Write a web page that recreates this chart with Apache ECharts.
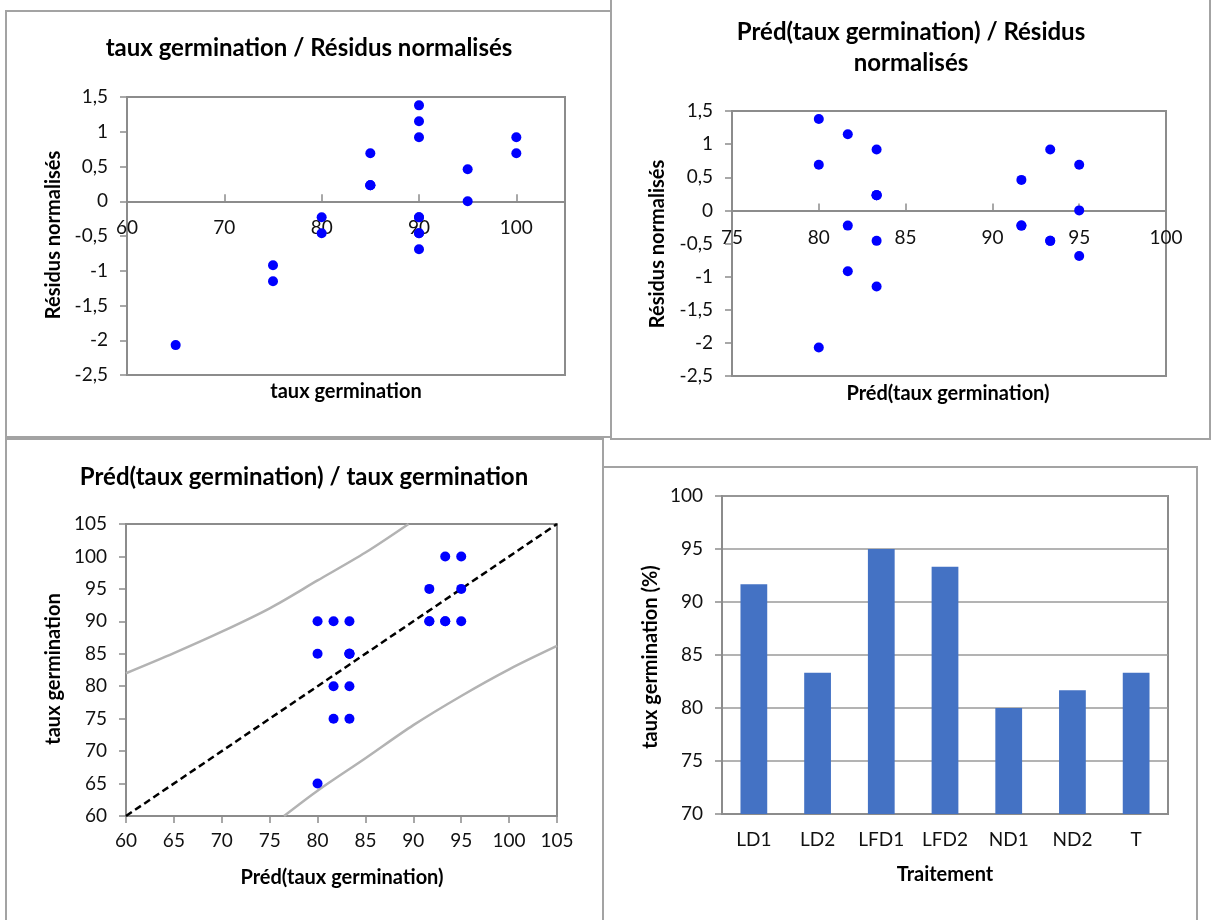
<!DOCTYPE html>
<html>
<head>
<meta charset="utf-8">
<script src="https://cdn.jsdelivr.net/npm/echarts@6/dist/echarts.min.js"></script>
<style>
html,body{margin:0;padding:0;background:#fff;}
#chart{width:1217px;height:920px;}
</style>
</head>
<body>
<div id="chart"></div>
<script>
// ---- Data ----
// 21 observations: treatment, observed germination rate, predicted value, normalised residual
const obsTreatment = ['ND1','ND1','ND1','ND2','ND2','ND2','LD2','LD2','LD2','T','T','T','LD1','LD1','LD1','LFD2','LFD2','LFD2','LFD1','LFD1','LFD1'];
const obsGermination = [90,85,65, 90,80,75, 90,85,75, 85,85,80, 95,90,90, 100,90,90, 100,95,90];
const predGermination = [80,80,80, 81.67,81.67,81.67, 83.33,83.33,83.33, 83.33,83.33,83.33, 91.67,91.67,91.67, 93.33,93.33,93.33, 95,95,95];
const residNormalised = [1.38,0.69,-2.07, 1.15,-0.23,-0.92, 0.92,0.23,-1.15, 0.23,0.23,-0.46, 0.46,-0.23,-0.23, 0.92,-0.46,-0.46, 0.69,0,-0.69];

// prediction interval curves (chart 3)
const upperX = [60,65,70,75,80,85,89.5];
const upperY = [82,85.1,88.4,92,96.3,100.6,105];
const lowerX = [76.5,80,85,90,95,100,105];
const lowerY = [60,63.9,68.9,74,78.5,82.6,86.2];
const diagX = [60,105];
const diagY = [60,105];

// bar chart (chart 4)
const treatments = ['LD1','LD2','LFD1','LFD2','ND1','ND2','T'];
const meanGermination = [91.67,83.33,95,93.33,80,81.67,83.33];

// ---- Styles ----
const FONT = 'Lato';
const AX = '#8c8c8c';
const comma = v => String(v).replace('.', ',');
const zip = (a,b) => a.map((v,i)=>[v,b[i]]);

function lbl(extra){ return Object.assign({fontFamily:FONT,fontSize:19,color:'#111'}, extra||{}); }
function txt(text,x,y,size,rot,lh){
  return {type:'text', x:x, y:y, rotation: rot?Math.PI/2:0, z:10,
    style:{text:text, fill:'#000', font:'bold '+size+'px '+FONT, align:'center', verticalAlign:'middle', lineHeight: lh||undefined}};
}
function panel(x,y,w,h){
  return {type:'rect', shape:{x:x,y:y,width:w,height:h}, style:{fill:'none',stroke:'#a3a3a3',lineWidth:2}, z:0, silent:true};
}

// grid geometry
const G1 = {left:127, top:97, width:438, height:278};
const G2 = {left:732, top:111, width:434, height:265};
// x axes of charts 1 and 2 cross the y axis at 0 (y range -2.5..1.5)
const off1 = -(G1.height * 2.5/4);
const off2 = -(G2.height * 2.5/4);

const chart = echarts.init(document.getElementById('chart'), null, {renderer:'canvas'});

const option = {
  backgroundColor:'#fff',
  animation:false,
  grid:[
    Object.assign({show:true, borderColor:AX, borderWidth:2}, G1),
    Object.assign({show:true, borderColor:AX, borderWidth:2}, G2),
    {left:126, top:524, width:431, height:292, show:true, borderColor:AX, borderWidth:2},
    {left:722, top:496, width:446, height:318, show:true, borderColor:AX, borderWidth:2}
  ],
  xAxis:[
    {gridIndex:0, type:'value', min:60, max:105, interval:10, position:'bottom', offset:off1,
      axisLine:{onZero:false, lineStyle:{color:AX,width:2}},
      axisTick:{inside:true, length:7, lineStyle:{color:AX,width:1.5}},
      axisLabel:lbl({margin:17, showMaxLabel:false}), splitLine:{show:false}},
    {gridIndex:1, type:'value', min:75, max:100, interval:5, position:'bottom', offset:off2,
      axisLine:{onZero:false, lineStyle:{color:AX,width:2}},
      axisTick:{inside:true, length:7, lineStyle:{color:AX,width:1.5}},
      axisLabel:lbl({margin:18}), splitLine:{show:false}},
    {gridIndex:2, type:'value', min:60, max:105, interval:5,
      axisLine:{lineStyle:{color:AX,width:2}},
      axisTick:{length:7, lineStyle:{color:AX,width:1.5}},
      axisLabel:lbl({margin:15}), splitLine:{show:false}},
    {gridIndex:3, type:'category', data:treatments,
      axisLine:{lineStyle:{color:AX,width:2}},
      axisTick:{length:7, lineStyle:{color:AX,width:1.5}},
      axisLabel:lbl({margin:16})}
  ],
  yAxis:[
    {gridIndex:0, type:'value', min:-2.5, max:1.5, interval:0.5,
      axisLine:{show:true, lineStyle:{color:AX,width:2}},
      axisTick:{show:true, length:7, lineStyle:{color:AX,width:1.5}},
      axisLabel:lbl({margin:19, formatter:comma}), splitLine:{show:false}},
    {gridIndex:1, type:'value', min:-2.5, max:1.5, interval:0.5,
      axisLine:{show:true, lineStyle:{color:AX,width:2}},
      axisTick:{show:true, length:7, lineStyle:{color:AX,width:1.5}},
      axisLabel:lbl({margin:19, formatter:comma}), splitLine:{show:false}},
    {gridIndex:2, type:'value', min:60, max:105, interval:5,
      axisLine:{show:true, lineStyle:{color:AX,width:2}},
      axisTick:{show:true, length:7, lineStyle:{color:AX,width:1.5}},
      axisLabel:lbl({margin:19}), splitLine:{show:false}},
    {gridIndex:3, type:'value', min:70, max:100, interval:5,
      axisLine:{show:true, lineStyle:{color:AX,width:2}},
      axisTick:{show:true, length:7, lineStyle:{color:AX,width:1.5}},
      axisLabel:lbl({margin:19}), splitLine:{show:true, lineStyle:{color:'#9a9a9a',width:1.5}}}
  ],
  series:[
    {type:'scatter', xAxisIndex:0, yAxisIndex:0, symbolSize:10, itemStyle:{color:'#0000ff', opacity:1},
      data: zip(obsGermination, residNormalised)},
    {type:'scatter', xAxisIndex:1, yAxisIndex:1, symbolSize:10, itemStyle:{color:'#0000ff', opacity:1},
      data: zip(predGermination, residNormalised)},
    {type:'line', xAxisIndex:2, yAxisIndex:2, symbol:'none', smooth:0.3, clip:true,
      lineStyle:{color:'#b3b3b3', width:2.5}, data: zip(upperX, upperY), z:2},
    {type:'line', xAxisIndex:2, yAxisIndex:2, symbol:'none', smooth:0.3, clip:true,
      lineStyle:{color:'#b3b3b3', width:2.5}, data: zip(lowerX, lowerY), z:2},
    {type:'line', xAxisIndex:2, yAxisIndex:2, symbol:'none',
      lineStyle:{color:'#000', width:2.5, type:[7,4]}, data: zip(diagX, diagY), z:3},
    {type:'scatter', xAxisIndex:2, yAxisIndex:2, symbolSize:10, itemStyle:{color:'#0000ff', opacity:1},
      data: zip(predGermination, obsGermination), z:4},
    {type:'bar', xAxisIndex:3, yAxisIndex:3, barWidth:'42%', itemStyle:{color:'#4472c4'},
      data: meanGermination}
  ],
  graphic:[
    panel(6,11,605,426),
    panel(611,-5,599,444),
    panel(6,439,597,500),
    panel(603,467,594,480),
    txt('taux germination / Résidus normalisés', 309, 48, 24),
    txt('Préd(taux germination) / Résidus\nnormalisés', 911, 48, 24, false, 31),
    txt('Préd(taux germination) / taux germination', 304, 477, 24),
    txt('Résidus normalisés', 54, 235, 20, true),
    txt('taux germination', 346, 392, 20),
    txt('Résidus normalisés', 658, 244, 20, true),
    txt('Préd(taux germination)', 948, 394, 20),
    txt('taux germination', 54, 669, 20, true),
    txt('Préd(taux germination)', 342, 878, 20),
    txt('taux germination (%)', 651, 657, 20, true),
    txt('Traitement', 945, 875, 20)
  ]
};
chart.setOption(option);
</script>
</body>
</html>
